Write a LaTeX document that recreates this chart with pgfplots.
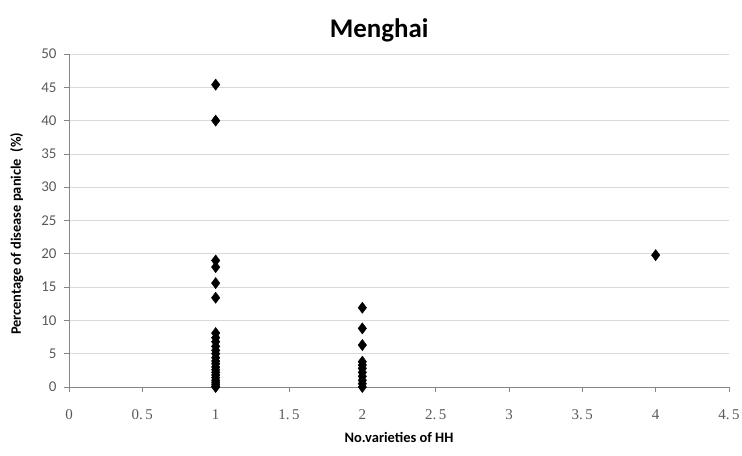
\documentclass[border=0pt]{standalone}
\usepackage{fontspec}
\setmainfont{Carlito}
\newfontfamily\tickfont{Liberation Serif}
\usepackage{pgfplots}
\pgfplotsset{compat=1.18}
\definecolor{gridgray}{HTML}{D9D9D9}
\definecolor{axisgray}{HTML}{868686}
\definecolor{labgray}{HTML}{595959}
\begin{document}
\begin{tikzpicture}
\path[use as bounding box] (-69bp,-69bp) rectangle (673bp,387bp);
\begin{axis}[
  at={(0,0)}, anchor=south west,
  scale only axis,
  width=660bp, height=333bp,
  xmin=0, xmax=4.5, ymin=0, ymax=50,
  axis x line=bottom, axis y line=left,
  axis line style={-, draw=axisgray, line width=0.8bp},
  xtick={0,0.5,1,1.5,2,2.5,3,3.5,4,4.5},
  xticklabels={0,{0.\,5},1,{1.\,5},2,{2.\,5},3,{3.\,5},4,{4.\,5}},
  ytick={0,5,...,50},
  tick align=outside,
  major tick length=5bp,
  tick style={draw=axisgray, line width=0.8bp},
  x tick label style={font=\tickfont\fontsize{15}{17}\selectfont, text=labgray, anchor=center, yshift=-23bp},
  y tick label style={font=\fontsize{15}{17}\selectfont, text=labgray, xshift=-4bp},
  /pgf/number format/assume math mode=true,
  ymajorgrids,
  grid style={draw=gridgray, line width=0.8bp},
  title={\bfseries\fontsize{27}{30}\selectfont Menghai},
  title style={at={(0.47,1)}, anchor=base, yshift=11bp},
  xlabel={\bfseries\fontsize{14.5}{16}\selectfont No.varieties of HH},
  xlabel style={at={(axis description cs:0.5,-0.153)}, anchor=center},
  ylabel={\bfseries\fontsize{14.5}{16}\selectfont Percentage of disease panicle\ \ (\%)},
  ylabel style={at={(axis description cs:-0.079,0.46)}, anchor=center},
  clip=false,
]
\addplot[only marks, mark=diamond*, mark size=5.6bp, mark options={fill=black, draw=black}] coordinates {
 (1,45.4) (1,40.0) (1,19.0) (1,18.0) (1,15.6) (1,13.4)
 (1,8.1) (1,7.4) (1,6.8) (1,6.1) (1,5.5) (1,5.0) (1,4.4) (1,3.9) (1,3.5)
 (1,3.0) (1,2.6) (1,2.2) (1,1.8) (1,1.4) (1,1.0) (1,0.7) (1,0.4) (1,0.1) (1,0)
 (2,11.9) (2,8.8) (2,6.3) (2,3.8) (2,3.3) (2,2.8) (2,2.2) (2,1.6) (2,1.0) (2,0.5) (2,0)
 (4,19.8)
};
\end{axis}
\end{tikzpicture}
\end{document}
